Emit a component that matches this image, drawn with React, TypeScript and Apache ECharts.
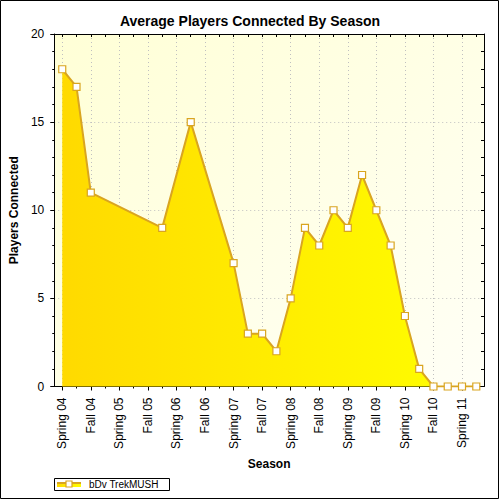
import React, { useEffect, useRef } from "react";
import * as echarts from "echarts";

const chartTitle = "Average Players Connected By Season";
const seriesName = "bDv TrekMUSH";
const xAxisName = "Season";
const yAxisName = "Players Connected";

const seasonLabels = [
  "Spring 04", "Fall 04", "Spring 05", "Fall 05", "Spring 06", "Fall 06",
  "Spring 07", "Fall 07", "Spring 08", "Fall 08", "Spring 09", "Fall 09",
  "Spring 10", "Fall 10", "Spring 11",
];

// positions in half-year units from Spring 04
const pointPositions = [0, 0.5, 1, 3.5, 4.5, 6, 6.5, 7, 7.5, 8, 8.5, 9, 9.5, 10, 10.5, 11, 11.5, 12, 12.5, 13, 13.5, 14, 14.5];
const playersConnected = [18, 17, 11, 9, 15, 7, 3, 3, 2, 5, 9, 8, 10, 9, 12, 10, 8, 4, 1, 0, 0, 0, 0];

const yTicks = [0, 5, 10, 15, 20];

const X_MIN = -0.28;
const X_MAX = 14.77;

const FONT = "'Liberation Sans', Arial, sans-serif";
const LINE_COLOR = "#D9A520";

export default function App() {
  const ref = useRef<HTMLDivElement>(null);

  useEffect(() => {
    if (!ref.current) return;
    const chart = echarts.init(ref.current, null, { renderer: "svg" });

    const majorX = seasonLabels.map((_, i) => i);
    const minorX = seasonLabels.map((_, i) => i + 0.5).filter((v) => v <= X_MAX);
    const allX = [...majorX, ...minorX].sort((a, b) => a - b);

    const areaGradient = new echarts.graphic.LinearGradient(0, 0, 1, 0, [
      { offset: 0, color: "#FFDA00" },
      { offset: 1, color: "#FFFF00" },
    ]);

    const option: any = {
      animation: false,
      textStyle: { fontFamily: FONT },
      title: {
        text: chartTitle,
        left: "center",
        top: 9,
        textStyle: { fontFamily: FONT, fontSize: 14, fontWeight: "bold", color: "#000" },
      },
      grid: {
        left: 54,
        right: 16,
        top: 34,
        bottom: 113.5,
        show: true,
        borderWidth: 0,
        backgroundColor: new echarts.graphic.LinearGradient(0, 0, 1, 1, [
          { offset: 0, color: "#FFFFD6" },
          { offset: 1, color: "#FFFFF6" },
        ]),
      },
      xAxis: [
        {
          type: "value",
          position: "bottom",
          min: X_MIN,
          max: X_MAX,
          name: xAxisName,
          nameLocation: "middle",
          nameGap: 71,
          nameTextStyle: { fontFamily: FONT, fontSize: 12, fontWeight: "bold", color: "#000" },
          axisLine: { show: true, onZero: false, lineStyle: { color: "#000", width: 1 } },
          axisTick: { show: true, customValues: majorX, length: 4, lineStyle: { color: "#000" } },
          axisLabel: {
            customValues: majorX,
            rotate: 90,
            margin: 11,
            fontFamily: FONT,
            fontSize: 12,
            color: "#000",
            formatter: (v: number) => seasonLabels[Math.round(v)] ?? "",
          },
          splitLine: { show: true, lineStyle: { color: "#C0C0C0", type: [1, 3], width: 1 } },
        },
        {
          type: "value",
          position: "bottom",
          min: X_MIN,
          max: X_MAX,
          axisLine: { show: false },
          axisTick: { show: true, customValues: minorX, length: 2, lineStyle: { color: "#000" } },
          axisLabel: { show: false },
          splitLine: { show: false },
        },
        {
          type: "value",
          position: "top",
          min: X_MIN,
          max: X_MAX,
          axisLine: { show: true, onZero: false, lineStyle: { color: "#000", width: 1 } },
          axisTick: { show: true, inside: true, customValues: allX, length: 3, lineStyle: { color: "#000" } },
          axisLabel: { show: false },
          splitLine: { show: false },
        },
      ],
      yAxis: [
        {
          type: "value",
          position: "left",
          min: 0,
          max: 20,
          interval: 5,
          name: yAxisName,
          nameLocation: "middle",
          nameGap: 29,
          nameTextStyle: { fontFamily: FONT, fontSize: 12, fontWeight: "bold", color: "#000" },
          axisLine: { show: true, onZero: false, lineStyle: { color: "#000", width: 1 } },
          axisTick: { show: true, length: 4, lineStyle: { color: "#000" } },
          minorTick: { show: true, splitNumber: 5, length: 2, lineStyle: { color: "#000" } },
          axisLabel: {
            margin: 10,
            fontFamily: FONT,
            fontSize: 12,
            color: "#000",
            customValues: yTicks,
          },
          splitLine: { show: true, lineStyle: { color: "#C0C0C0", type: [1, 3], width: 1 } },
        },
        {
          type: "value",
          position: "right",
          min: 0,
          max: 20,
          interval: 1,
          axisLine: { show: true, onZero: false, lineStyle: { color: "#000", width: 1 } },
          axisTick: { show: true, inside: true, length: 3, lineStyle: { color: "#000" } },
          axisLabel: { show: false },
          splitLine: { show: false },
        },
      ],
      series: [
        {
          name: seriesName,
          type: "line",
          xAxisIndex: 0,
          yAxisIndex: 0,
          data: pointPositions.map((x, i) => [x, playersConnected[i]]),
          symbol: "rect",
          symbolSize: 7,
          showAllSymbol: true,
          lineStyle: { color: LINE_COLOR, width: 2 },
          itemStyle: { color: "#FFFFFF", borderColor: LINE_COLOR, borderWidth: 1.2 },
          areaStyle: { color: areaGradient, opacity: 1 },
          z: 3,
        },
      ],
      graphic: [
        {
          type: "rect",
          shape: { x: 0.5, y: 0.5, width: 498, height: 498 },
          style: { fill: "none", stroke: "#000", lineWidth: 1 },
          silent: true,
          z: 100,
        },
        {
          type: "group",
          left: 54,
          top: 478,
          children: [
            {
              type: "rect",
              shape: { x: 0.5, y: 0.5, width: 115, height: 12 },
              style: { fill: "#fff", stroke: "#000", lineWidth: 1 },
            },
            {
              type: "rect",
              shape: { x: 3, y: 4, width: 24, height: 5 },
              style: {
                fill: new echarts.graphic.LinearGradient(0, 0, 1, 0, [
                  { offset: 0, color: "#FFDA00" },
                  { offset: 1, color: "#FFFF00" },
                ]),
              },
            },
            {
              type: "line",
              shape: { x1: 3, y1: 5, x2: 27, y2: 5 },
              style: { stroke: LINE_COLOR, lineWidth: 2 },
            },
            {
              type: "rect",
              shape: { x: 12, y: 3, width: 6, height: 6 },
              style: { fill: "#fff", stroke: LINE_COLOR, lineWidth: 1.2 },
            },
            {
              type: "text",
              style: {
                x: 35,
                y: 6.5,
                text: seriesName,
                fontFamily: FONT,
                fontSize: 10,
                fill: "#000",
                verticalAlign: "middle",
                align: "left",
              },
            },
          ],
        },
      ],
    };

    chart.setOption(option);
    return () => chart.dispose();
  }, []);

  return (
    <div
      ref={ref}
      style={{ position: "absolute", left: 0, top: 0, width: 500, height: 500, background: "#fff" }}
    />
  );
}
